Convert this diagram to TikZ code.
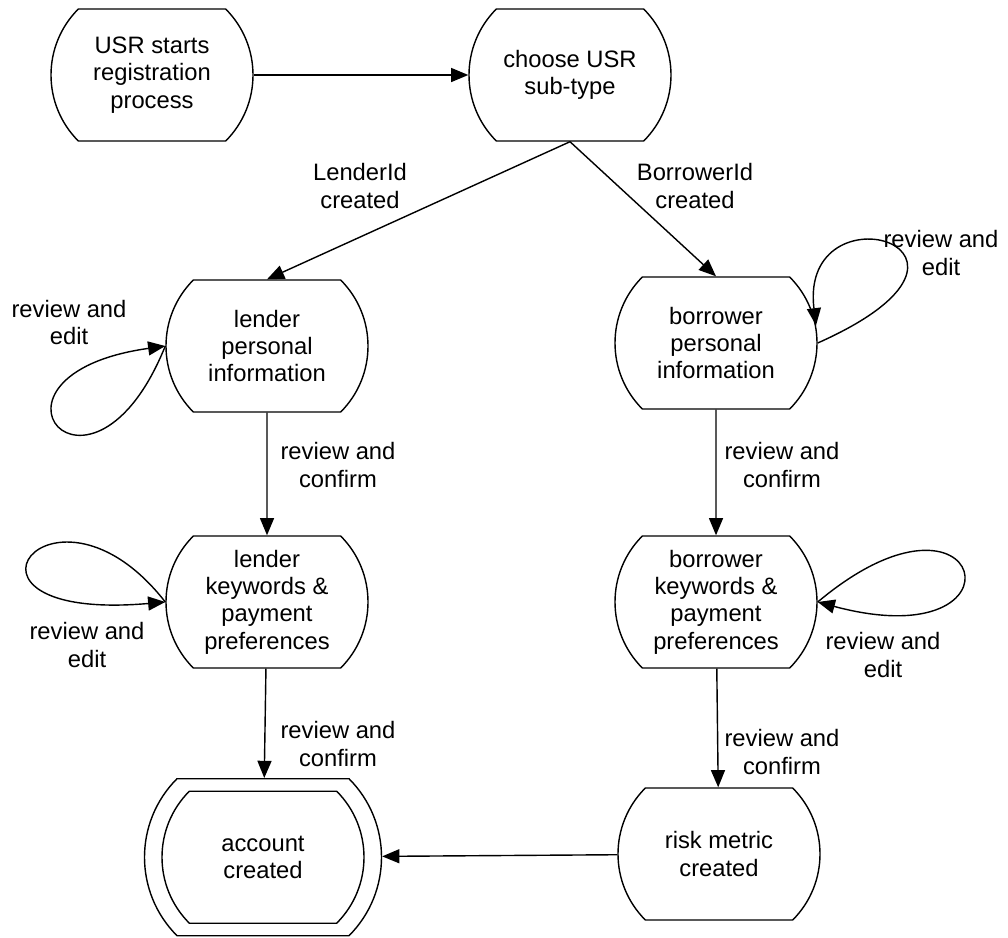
\documentclass[tikz,border=0pt]{standalone}
\usepackage{fontspec}
\setmainfont{Liberation Sans}
\usetikzlibrary{shapes.misc,arrows.meta}

\begin{document}
\begin{tikzpicture}[
  stbox/.style={rounded rectangle,rounded rectangle arc length=90,draw=black,align=center,line width=1pt,minimum width=5.05cm,minimum height=3.3cm,inner sep=0pt,font=\fontsize{16.9}{19.5}\selectfont},
  lbl/.style={align=center,inner sep=0pt,font=\fontsize{16.9}{19.5}\selectfont},
  flow/.style={-{Triangle[length=0.43cm,width=0.35cm]},draw=black,line width=1pt}]
\useasboundingbox (0,0) rectangle (25.2,-23.425);

\node[stbox] (0) at (3.8,-1.875) {USR starts\\registration\\process};
\node[stbox] (1) at (14.25,-1.875) {choose USR\\sub-type};
\node[stbox] (2) at (6.675,-8.65) {lender\\personal\\information};
\node[stbox] (3) at (17.9,-8.575) {borrower\\personal\\information};
\node[stbox] (4) at (6.675,-15.05) {lender\\keywords \&\\payment\\preferences};
\node[stbox] (5) at (17.9,-15.05) {borrower\\keywords \&\\payment\\preferences};
\node[stbox,minimum width=5.925cm,minimum height=3.925cm] (8) at (6.575,-21.43) {};
\node[stbox] (6) at (6.575,-21.43) {account\\created};
\node[stbox] (7) at (17.975,-21.35) {risk metric\\created};

\node[lbl] (9) at (9.0,-4.65) {LenderId\\created};
\node[lbl] (10) at (17.375,-4.65) {BorrowerId\\created};
\node[lbl] (11) at (1.725,-8.06) {review and\\edit};
\node[lbl] (12) at (23.525,-6.325) {review and\\edit};
\node[lbl] (13) at (8.45,-11.625) {review and\\confirm};
\node[lbl] (14) at (19.55,-11.625) {review and\\confirm};
\node[lbl] (15) at (2.175,-16.125) {review and\\edit};
\node[lbl] (16) at (22.075,-16.375) {review and\\edit};
\node[lbl] (17) at (8.45,-18.6) {review and\\confirm};
\node[lbl] (18) at (19.55,-18.8) {review and\\confirm};

\path (0) edge[flow] (1);
\path (1.south) edge[flow] (2.north);
\path (1.south) edge[flow] (3.north);
\path (2) edge[flow] (4);
\path (3) edge[flow] (5);
\path (4) edge[flow] (8);
\path (5) edge[flow] (7);
\path (7) edge[flow] (8);

\path (2.west) edge[flow,out=248,in=188,out distance=5cm,in distance=5.2cm] (2.west);
\path (3.east) edge[flow,out=24,in=97,out distance=5.8cm,in distance=3.6cm] (3.10);
\path (4.west) edge[flow,out=128,in=185,out distance=4.6cm,in distance=6cm] (4.west);
\path (5.east) edge[flow,out=40,in=-15,out distance=5.5cm,in distance=5.6cm] (5.east);
\end{tikzpicture}
\end{document}
